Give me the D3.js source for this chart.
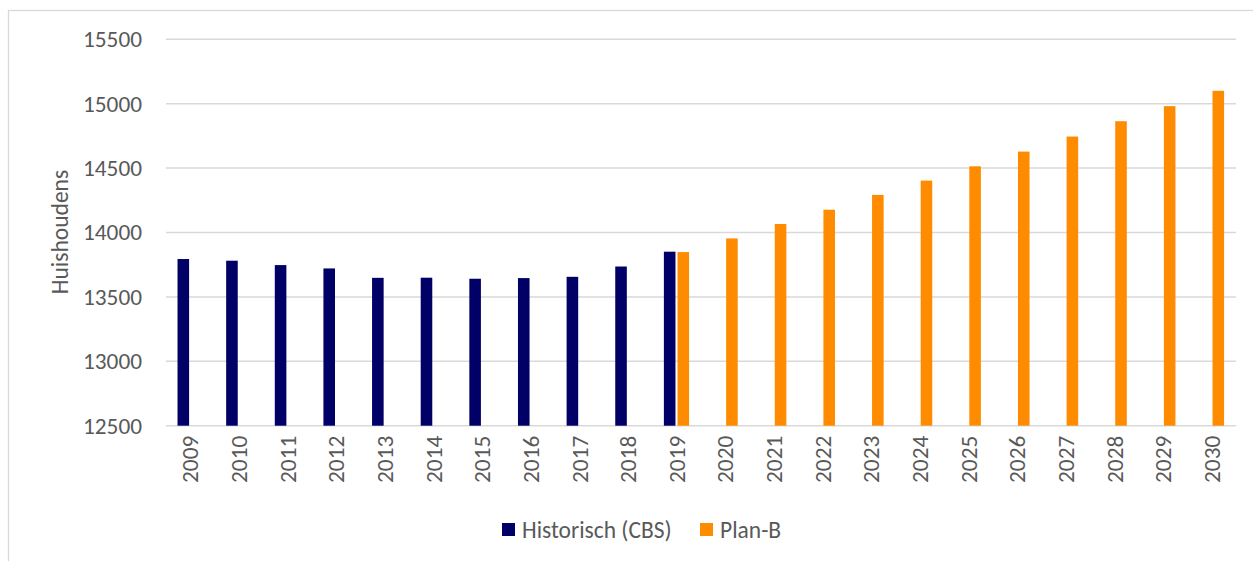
<!DOCTYPE html>
<html lang="nl">
<head>
    <meta charset="UTF-8">
    <title>Huishoudens</title>
    <script src="https://cdnjs.cloudflare.com/ajax/libs/d3/7.8.5/d3.min.js"></script>
    <style>
        body { margin: 0; background: #fff; }
        svg { display: block; font-family: Calibri, Carlito, "Open Sans", sans-serif; }
        .tick text { fill: #595959; font-size: 23.3px; }
    </style>
</head>
<body>
    <div id="chart"></div>
    <script>
    const years = ["2009", "2010", "2011", "2012", "2013", "2014", "2015", "2016", "2017", "2018", "2019",
                   "2020", "2021", "2022", "2023", "2024", "2025", "2026", "2027", "2028", "2029", "2030"];
    const historisch = [13794, 13781, 13747, 13721, 13648, 13649, 13641, 13646, 13656, 13736, 13851,
                        null, null, null, null, null, null, null, null, null, null, null];
    const planB = [null, null, null, null, null, null, null, null, null, null, 13848,
                   13954, 14066, 14177, 14292, 14403, 14514, 14628, 14745, 14864, 14981, 15100];
    const yTicks = [12500, 13000, 13500, 14000, 14500, 15000, 15500];
    const seriesNames = ["Historisch (CBS)", "Plan-B"];
    const seriesValues = [historisch, planB];
    const colors = ["#000066", "#ff8c00"];

    const W = 1253, H = 561;
    const plotLeft = 166, plotRight = 1236, plotTop = 39.3, plotBottom = 425.7;

    const svg = d3.select("#chart").append("svg")
        .attr("width", W)
        .attr("height", H);

    // outer frame (only top and left visible)
    svg.append("rect")
        .attr("x", 8.5).attr("y", 10.5)
        .attr("width", 1400).attr("height", 700)
        .attr("fill", "none")
        .attr("stroke", "#d9d9d9")
        .attr("stroke-width", 1.3);

    const x = d3.scaleBand().domain(years).range([plotLeft, plotRight]);
    const x1 = d3.scaleBand().domain(seriesNames).range([-12.8, 12.4]).paddingInner(0.15);
    const y = d3.scaleLinear().domain([12500, 15500]).range([plotBottom, plotTop]);

    // gridlines
    svg.append("g")
        .selectAll("line")
        .data(yTicks)
        .join("line")
        .attr("x1", plotLeft).attr("x2", plotRight)
        .attr("y1", d => y(d)).attr("y2", d => y(d))
        .attr("stroke", "#d9d9d9")
        .attr("stroke-width", 1.5);

    // y axis
    const yAxis = svg.append("g")
        .attr("transform", `translate(${plotLeft - 16},0)`)
        .call(d3.axisLeft(y).tickValues(yTicks).tickSize(0).tickPadding(8).tickFormat(d3.format("d")))
        .attr("font-family", null);
    yAxis.select(".domain").remove();

    // bars
    seriesNames.forEach((name, si) => {
        const rows = years.map((yr, i) => ({ year: yr, value: seriesValues[si][i] }))
            .filter(d => d.value != null);
        svg.append("g")
            .selectAll("rect")
            .data(rows)
            .join("rect")
            .attr("x", d => x(d.year) + x.bandwidth() / 2 + x1(name))
            .attr("width", x1.bandwidth())
            .attr("y", d => y(d.value))
            .attr("height", d => y(12500) - y(d.value))
            .attr("fill", colors[si]);
    });

    // x axis, rotated labels
    const xAxis = svg.append("g")
        .attr("transform", `translate(0,${plotBottom})`)
        .call(d3.axisBottom(x).tickSize(0))
        .attr("font-family", null);
    xAxis.select(".domain").remove();
    xAxis.selectAll(".tick text")
        .attr("transform", "rotate(-90)")
        .attr("text-anchor", "end")
        .attr("x", -10)
        .attr("y", 0)
        .attr("dy", "0.35em");

    // y title
    svg.append("text")
        .attr("transform", "translate(68,232) rotate(-90)")
        .attr("text-anchor", "middle")
        .attr("fill", "#595959")
        .style("font-size", "23.5px")
        .text("Huishoudens");

    // legend
    const legendX = [502, 700];
    const legend = svg.append("g");
    seriesNames.forEach((name, i) => {
        legend.append("rect")
            .attr("x", legendX[i]).attr("y", 523)
            .attr("width", 13).attr("height", 13)
            .attr("fill", colors[i]);
        legend.append("text")
            .attr("x", legendX[i] + 20).attr("y", 530)
            .attr("dy", "0.35em")
            .attr("fill", "#595959")
            .style("font-size", "23.5px")
            .text(name);
    });
    </script>
</body>
</html>
